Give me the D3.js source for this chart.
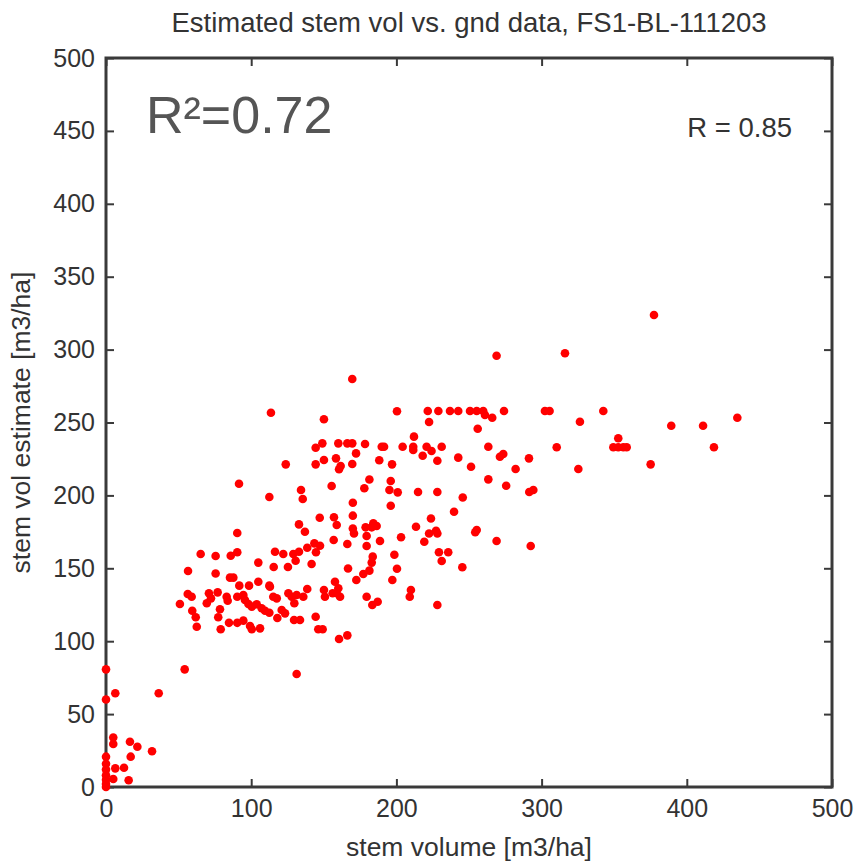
<!DOCTYPE html>
<html>
<head>
<meta charset="utf-8">
<script src="https://cdn.jsdelivr.net/npm/d3@7"></script>
<style>
  body { margin: 0; background: #fff; }
  text { font-family: "Liberation Sans", Arial, sans-serif; fill: #333; }
</style>
</head>
<body>
<div id="chart"></div>
<script>
// ground data stem volume (m3/ha)
var stemVol = [
  0, 0, 0, 0, 0, 0, 0, 0, 0, 6.4, 36.3, 54.2, 131.3, 5, 5, 16.5, 21.6, 31.7, 17, 6.4, 12.4, 5, 15.6,
  113.6, 150.1, 144.4, 149, 160, 166.2, 123.8, 144.4, 150.1, 158.4, 161.6, 160.5, 91.6, 112.5, 134.3, 135.5,
  155.4, 147.2, 157, 158.9, 132.9, 137, 90.4, 156.8, 143.5, 147.4, 138.6, 144.6, 65.2, 75.5, 85.9, 90.4,
  116.4, 122.1, 129, 132.9, 130.6, 104.9, 115.5, 125.3, 141.6, 56.5, 75.5, 85.4, 87.7, 91.8, 98.5, 104.9,
  112.5, 56.3, 59, 70.9, 72.3, 69.4, 76.9, 50.9, 83.1, 83.8, 90.4, 94.6, 95.7, 98.1, 100.4, 103.8, 59.4,
  61.8, 62.5, 78.5, 77.3, 79, 84.7, 90.4, 94.6, 99.2, 100.4, 106.1, 107.2, 109.5, 112.5, 115.2, 117.6,
  112.9, 118, 121, 123.3, 125.6, 127.9, 131.3, 135.9, 138.6, 129.7, 129.5, 133.6, 144.4, 146.2, 149.2,
  150.1, 150.8, 157.7, 156.1, 158.9, 160, 161.2, 160.5, 166.2,
  269, 169.6, 200.4, 221.6, 228.9, 236.9, 242.6, 250.7, 255.3, 259.8, 261, 266, 274.1, 222.5, 256, 212.1,
  169.6, 178.4, 189.9, 191.5, 204.3, 211.6, 211.6, 220.8, 224.2, 231.2, 263.3, 172.2, 169.6, 188.2, 197,
  218.1, 228.2, 242.6, 251.4, 271.3, 273.6, 282.1, 181.4, 177.9, 196.1, 195.2, 200.9, 214.9, 228.2, 263.3,
  275.6, 245.7, 170, 196.1, 239.7, 170, 223.8, 184.1, 186.4, 183, 178.8, 170, 170.8, 213.5, 255.3, 254.3,
  222.5, 227.3, 228.2, 179.5, 188.7, 166.2, 179.5, 203.2, 219.2, 269, 183.7, 183, 198.6, 229.3, 235.7,
  231.2, 166.7, 181.4, 177.2, 200.4, 245.4, 172.4, 197.2, 210, 209.2, 179.5, 183.4, 187.1, 228.2,
  377.4, 316.1, 302.3, 305.5, 342.5, 326.4, 434.8, 389.3, 411.2, 352.8, 349.4, 352.8, 356.3, 358.6, 310.4,
  418.7, 291.3, 325.3, 375.1, 291.5, 294.3, 292.5
];
// estimated stem volume (m3/ha)
var stemEst = [
  80.7, 60, 20.8, 16, 12, 8, 5, 2, 0, 64.3, 64.3, 80.7, 77.5, 34, 29.5, 31, 27.6, 24.5, 20.8, 12.8, 13.2, 5.5, 4.6,
  256.7, 252.2, 232.7, 235.7, 235.7, 235.7, 221.3, 221.3, 224.3, 225.4, 220.2, 217.9, 208, 198.9, 203.7, 197.5,
  206.4, 184.7, 185, 179.7, 180.1, 175.1, 174.2, 169.4, 167.1, 165.5, 164.1, 161, 159.8, 158.4, 158.6, 161,
  161.4, 159.8, 159.8, 161.4, 155.2, 153.9, 150.9, 150.9, 152.9, 148.1, 146.4, 143.6, 143.6, 138.1, 138.1, 140.8,
  138.1, 132.4, 130.5, 132.9, 129.4, 126, 133.5, 125.5, 130.5, 127.8, 130.5, 131.7, 128.3, 125.5, 123.7, 125.3, 120.9,
  116.4, 109.9, 121.9, 116.4, 108.2, 112.6, 112.6, 114.1, 110.4, 108.2, 108.8, 122.6, 120.9, 119.5, 130.5, 129.4,
  137.4, 115.9, 121.4, 119.1, 132.9, 130.5, 131.7, 130.5, 135.8, 126, 114.5, 114.5, 116.8, 108.2, 108.2,
  135.1, 130.5, 140.8, 132.9, 132.9, 136.3, 130.5, 101.5, 104,
  295.8, 279.8, 257.7, 257.9, 257.9, 257.9, 257.9, 257.9, 257.9, 257.9, 255.2, 253.3, 257.9, 250.3, 245.7, 240.3,
  235.7, 235.3, 233.4, 233.4, 233.4, 233.4, 231.1, 233.4, 230.5, 233.4, 233.4, 228.8, 221.5, 224.1, 221.3,
  227.2, 223.8, 225.9, 219.6, 226.5, 228.4, 218.1, 210.9, 204.9, 209.9, 203.7, 202.1, 202.3, 202.3, 211,
  206.6, 198.6, 195, 192.9, 188.8, 186.1, 184.2, 180.8, 179, 178.1, 178.1, 177.3, 173.9, 178.5, 176.3, 174.7,
  173.9, 175.8, 173.9, 172.2, 168.7, 166.7, 165.3, 171.3, 168.2, 168.7, 158, 153.9, 159.3, 161, 161,
  155, 149.9, 148.4, 146.1, 149.7, 150.7, 142, 142, 135.1, 130.5, 130.5, 124.8, 127.1, 124.8,
  323.7, 297.5, 257.9, 257.9, 257.9, 250.5, 253.3, 247.8, 247.8, 239.2, 233, 233, 233, 233, 233,
  233, 225.4, 218.1, 221.3, 202.3, 203.7, 165.3
];
var tickVals = [0, 100, 200, 300, 400, 500];
var yTickVals = [0, 50, 100, 150, 200, 250, 300, 350, 400, 450, 500];

var width = 860, height = 861;
var plotLeft = 106, plotRight = 832, plotTop = 58, plotBottom = 787;

var svg = d3.select("#chart").append("svg")
    .attr("width", width)
    .attr("height", height);

var x = d3.scaleLinear().domain([0, 500]).range([plotLeft, plotRight]);
var y = d3.scaleLinear().domain([0, 500]).range([plotBottom, plotTop]);

var frameColor = "#3a3a3a";

// axes with inward ticks on all four sides
var gx = svg.append("g").attr("transform", "translate(0," + plotBottom + ")")
    .call(d3.axisBottom(x).tickValues(tickVals).tickSize(-8).tickSizeOuter(0).tickPadding(12));
var gxt = svg.append("g").attr("transform", "translate(0," + plotTop + ")")
    .call(d3.axisTop(x).tickValues(tickVals).tickSize(-8).tickSizeOuter(0).tickFormat(""));
var gy = svg.append("g").attr("transform", "translate(" + plotLeft + ",0)")
    .call(d3.axisLeft(y).tickValues(yTickVals).tickSize(-8).tickSizeOuter(0).tickPadding(11));
var gyr = svg.append("g").attr("transform", "translate(" + plotRight + ",0)")
    .call(d3.axisRight(y).tickValues(yTickVals).tickSize(-8).tickSizeOuter(0).tickFormat(""));

[gx, gxt, gy, gyr].forEach(function(g) {
  g.select(".domain").remove();
  g.selectAll("line").attr("stroke", frameColor).attr("stroke-width", 2);
  g.selectAll("text").style("font-family", "'Liberation Sans', Arial, sans-serif")
    .style("font-size", "25px").attr("fill", "#333");
});

svg.append("rect")
    .attr("x", plotLeft).attr("y", plotTop)
    .attr("width", plotRight - plotLeft).attr("height", plotBottom - plotTop)
    .attr("fill", "none").attr("stroke", frameColor).attr("stroke-width", 3);

// points
svg.append("g").selectAll("circle")
  .data(stemVol.map(function(v, i) { return [v, stemEst[i]]; }))
  .enter().append("circle")
    .attr("cx", function(d) { return x(d[0]); })
    .attr("cy", function(d) { return y(d[1]); })
    .attr("r", 4.3)
    .attr("fill", "#ff0000");

// texts
svg.append("text").attr("x", (plotLeft + plotRight) / 2).attr("y", 32)
    .attr("text-anchor", "middle").style("font-size", "27.5px")
    .text("Estimated stem vol vs. gnd data, FS1-BL-111203");
svg.append("text").attr("x", (plotLeft + plotRight) / 2).attr("y", 856)
    .attr("text-anchor", "middle").style("font-size", "26.5px")
    .text("stem volume [m3/ha]");
svg.append("text")
    .attr("transform", "translate(30," + (plotTop + plotBottom) / 2 + ") rotate(-90)")
    .attr("text-anchor", "middle").style("font-size", "26.5px")
    .text("stem vol estimate [m3/ha]");
svg.append("text").attr("x", 792).attr("y", 137)
    .attr("text-anchor", "end").style("font-size", "27.5px")
    .text("R = 0.85");
svg.append("text").attr("x", 146).attr("y", 133)
    .style("font-size", "52px").style("fill", "#555")
    .text("R²=0.72");
</script>
</body>
</html>
